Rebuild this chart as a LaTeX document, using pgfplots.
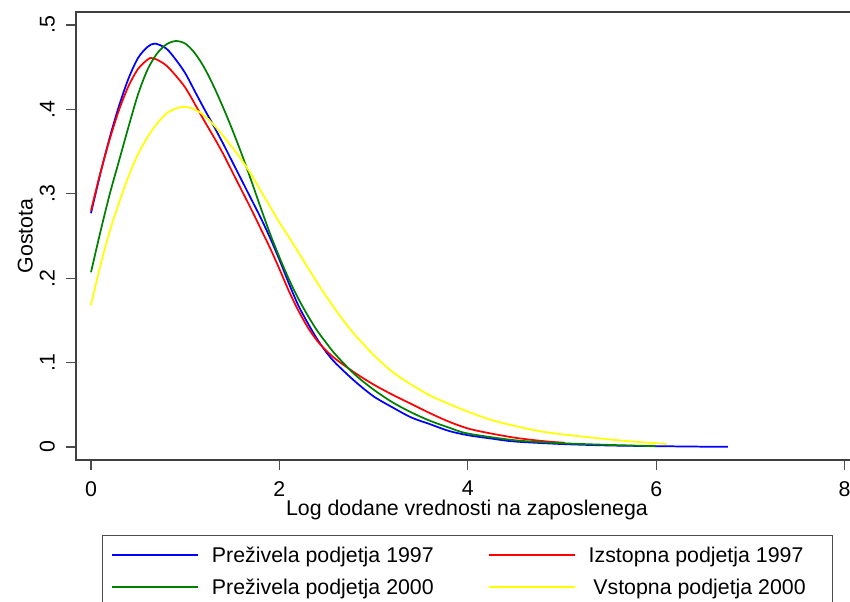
\documentclass[border=0pt]{standalone}
\usepackage{fontspec}
\setmainfont{Liberation Sans}
\usepackage{pgfplots}
\pgfplotsset{compat=1.18}
\definecolor{sblue}{RGB}{0,0,255}
\definecolor{sred}{RGB}{255,0,0}
\definecolor{sgreen}{RGB}{0,128,0}
\definecolor{syellow}{RGB}{255,255,0}
\begin{document}
\begin{tikzpicture}[font=\fontsize{16}{19}\selectfont]
\useasboundingbox (0,0) rectangle (637.5pt,450.75pt);
\begin{axis}[
  scale only axis,
  width=586.5pt, height=336pt,
  at={(57pt,105.75pt)}, anchor=south west,
  xmin=-0.159, xmax=8.142,
  ymin=-0.0154, ymax=0.5154,
  xtick={0,2,4,6,8}, xticklabels={0,2,4,6,8},
  ytick={0,0.1,0.2,0.3,0.4,0.5}, yticklabels={0,.1,.2,.3,.4,.5},
  /pgf/number format/assume math mode=true,
  tick align=outside,
  major tick length=7.5pt,
  xtick pos=bottom, ytick pos=left,
  axis line style={black!75, line width=1.1pt},
  major tick style={black!70, line width=0.8pt},
  xticklabel style={anchor=north, inner sep=0pt},
  xticklabel shift=8.25pt,
  yticklabel style={rotate=90, anchor=south, inner sep=0pt},
  yticklabel shift=8.25pt,
  xlabel={Log dodane vrednosti na zaposlenega},
  ylabel={Gostota},
  every axis x label/.style={at={(axis description cs:0.5,-0.0893)}, anchor=north, inner sep=0pt},
  every axis y label/.style={at={(axis description cs:-0.055,0.5)}, rotate=90, anchor=south, inner sep=0pt},
  legend columns=2,
  legend cell align=left,
  legend image code/.code={\draw[#1, line width=1.3pt] (0pt,0pt) -- (64.5pt,0pt);},
  legend style={at={(axis description cs:0.03325,-0.16741)}, anchor=north west,
    draw=black!70, fill=white,
    inner xsep=6.75pt, inner ysep=6.7pt,
    row sep=7.4pt, column sep=9.75pt,
    nodes={inner sep=0pt, text height=14pt, text depth=2.6pt}},
  every axis plot/.append style={line width=1.3pt, smooth, no markers},
]
% Prezivela podjetja 1997
\addplot[draw=sblue] coordinates {
(0,0.277) (0.1,0.324) (0.2,0.367) (0.3,0.405) (0.4,0.437) (0.5,0.461) (0.6,0.474)
(0.68,0.478) (0.8,0.472) (0.9,0.459) (1.0,0.443) (1.1,0.422) (1.2,0.401) (1.3,0.381)
(1.4,0.360) (1.5,0.338) (1.6,0.316) (1.7,0.294) (1.8,0.272) (1.9,0.248) (2.0,0.222)
(2.1,0.194) (2.2,0.168) (2.3,0.147) (2.4,0.128) (2.5,0.112) (2.6,0.099) (2.8,0.078)
(3.0,0.060) (3.2,0.047) (3.4,0.035) (3.6,0.027) (3.8,0.019) (4.0,0.014) (4.25,0.010)
(4.5,0.0065) (5.0,0.0035) (5.5,0.0018) (6.0,0.001) (6.5,0.0004) (6.76,0.0002)};
\addlegendentry{\makebox[197.25pt][l]{Preživela podjetja 1997}}
% Izstopna podjetja 1997
\addplot[draw=sred] coordinates {
(0,0.280) (0.1,0.325) (0.2,0.365) (0.3,0.400) (0.4,0.428) (0.5,0.448) (0.6,0.459)
(0.63,0.461) (0.7,0.459) (0.8,0.452) (0.9,0.440) (1.0,0.426) (1.1,0.407) (1.2,0.387)
(1.3,0.368) (1.4,0.348) (1.5,0.326) (1.6,0.304) (1.7,0.282) (1.8,0.259) (1.9,0.236)
(2.0,0.211) (2.1,0.185) (2.2,0.162) (2.3,0.142) (2.4,0.126) (2.5,0.114) (2.6,0.104)
(2.8,0.088) (3.0,0.074) (3.2,0.062) (3.4,0.051) (3.6,0.040) (3.8,0.030) (4.0,0.022)
(4.2,0.017) (4.5,0.011) (4.8,0.007) (5.03,0.005)};
\addlegendentry{\makebox[176.25pt][l]{Izstopna podjetja 1997}}
% Prezivela podjetja 2000
\addplot[draw=sgreen] coordinates {
(0,0.207) (0.1,0.255) (0.2,0.300) (0.3,0.340) (0.4,0.380) (0.5,0.418) (0.6,0.447)
(0.7,0.466) (0.8,0.477) (0.9,0.481) (1.0,0.478) (1.1,0.467) (1.2,0.450) (1.3,0.428)
(1.4,0.403) (1.5,0.376) (1.6,0.347) (1.7,0.316) (1.8,0.284) (1.9,0.253) (2.0,0.225)
(2.1,0.199) (2.2,0.176) (2.3,0.156) (2.4,0.138) (2.5,0.123) (2.6,0.109) (2.8,0.086)
(3.0,0.068) (3.2,0.053) (3.4,0.041) (3.6,0.031) (3.8,0.023) (4.0,0.016) (4.5,0.008)
(5.0,0.0045) (5.5,0.0025) (6.0,0.001)};
\addlegendentry{\makebox[197.25pt][l]{Preživela podjetja 2000}}
% Vstopna podjetja 2000
\addplot[draw=syellow] coordinates {
(0,0.168) (0.1,0.215) (0.2,0.256) (0.3,0.290) (0.4,0.321) (0.5,0.347) (0.6,0.367)
(0.7,0.383) (0.8,0.395) (0.9,0.401) (1.0,0.403) (1.1,0.400) (1.2,0.393) (1.3,0.382)
(1.4,0.369) (1.5,0.355) (1.6,0.340) (1.7,0.323) (1.8,0.304) (1.9,0.285) (2.0,0.266)
(2.1,0.249) (2.2,0.231) (2.3,0.213) (2.4,0.195) (2.5,0.178) (2.6,0.162) (2.7,0.147)
(2.8,0.133) (2.9,0.121) (3.0,0.109) (3.2,0.089) (3.4,0.074) (3.6,0.061) (3.8,0.051)
(4.0,0.042) (4.25,0.032) (4.5,0.025) (4.75,0.019) (5.0,0.015) (5.25,0.012) (5.5,0.009)
(5.75,0.0065) (6.0,0.0045) (6.11,0.0035)};
\addlegendentry{\makebox[176.25pt][l]{\hspace{3.5pt}Vstopna podjetja 2000}}
\end{axis}
\end{tikzpicture}
\end{document}
